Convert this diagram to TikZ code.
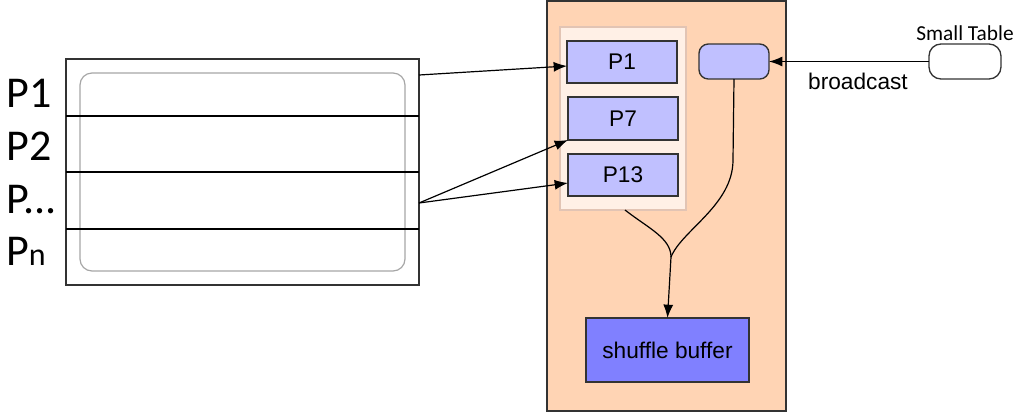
\documentclass[tikz,border=0pt]{standalone}
\usepackage{fontspec}
\setmainfont{Liberation Sans}
\newfontfamily\calib{Carlito}
\usetikzlibrary{arrows.meta}
\definecolor{peach}{HTML}{FFD4B4}
\definecolor{cream}{HTML}{FFF0E6}
\definecolor{creamedge}{HTML}{E2C4B4}
\definecolor{lblue}{HTML}{C0C0FF}
\definecolor{mblue}{HTML}{8080FF}
\definecolor{edge}{HTML}{333333}
\tikzset{
  box/.style={draw=edge, line width=1pt, inner sep=0pt, outer sep=0pt, font=\fontsize{17}{19}\selectfont},
  pbox/.style={box, fill=lblue, minimum width=82.5pt},
  arr/.style={-{Latex[length=10pt,width=7.5pt]}, line width=0.9pt, black},
  plabel/.style={anchor=base west, inner sep=0pt, font=\calib\fontsize{33}{36}\selectfont},
}
\begin{document}
\begin{tikzpicture}[x=0.75pt,y=-0.75pt]
\useasboundingbox (0,0) rectangle (1025,412);
% left table
\node[draw=edge, line width=1pt, inner sep=0pt, outer sep=0pt, minimum width=264.75pt, minimum height=169.5pt] (tbl) at (242.5,172) {};
\draw[draw=gray!70, line width=0.9pt, rounded corners=9pt] (80,73) rectangle (405,271);
\draw[line width=1pt, black] (66,116) -- (419,116);
\draw[line width=1pt, black] (66,172) -- (419,172);
\draw[line width=1pt, black] (66,229) -- (419,229);
\node[plabel] (l1) at (6,107) {P1};
\node[plabel] (l2) at (6,160) {P2};
\node[plabel] (l3) at (6,213) {P...};
\node[plabel] (l4) at (6,265) {P{\fontsize{24}{26}\selectfont n}};
% orange panel
\node[box, fill=peach, minimum width=179.25pt, minimum height=307.5pt] (panel) at (666.5,206) {};
\node[draw=creamedge, line width=1pt, fill=cream, inner sep=0pt, outer sep=0pt, minimum width=94.5pt, minimum height=137.25pt] (cont) at (623,118.5) {};
\node[pbox, minimum height=31.5pt] (p1) at (622,62) {P1};
\node[pbox, minimum height=32.25pt] (p7) at (623,118.5) {P7};
\node[pbox, minimum height=31.5pt] (p13) at (623,175) {P13};
\node[box, fill=lblue, rounded corners=7pt, minimum width=52.5pt, minimum height=26.25pt] (bc) at (734,61.5) {};
\node[box, fill=mblue, minimum width=122.25pt, minimum height=48pt] (sb) at (667.5,350) {shuffle buffer};
% small table
\node[box, fill=white, rounded corners=9pt, minimum width=54pt, minimum height=26.25pt] (st) at (965,61.5) {};
\node[inner sep=0pt, font=\calib\fontsize{16}{18}\selectfont] (stl) at (965,33) {Small Table};
\node[inner sep=0pt, font=\fontsize{17}{19}\selectfont] (bcl) at (858,81) {broadcast};
% connectors
\coordinate (s1) at (419,75);
\coordinate (s2) at (419,203);
\draw[arr] (s1) -- ([yshift=-3pt]p1.west);
\draw[arr] (s2) -- (p7.south west);
\draw[arr] (s2) -- ([yshift=-6pt]p13.west);
\draw[arr] (st.west) -- (bc.east);
\coordinate (m) at (671,257);
\coordinate (c1) at (625,210);
\draw[line width=0.9pt] (c1) .. controls (648,228) and (671,238) .. (m);
\draw[line width=0.9pt] (bc.south) -- (733,160) .. controls (733,205) and (682,230) .. (m);
\draw[arr] (m) -- (sb.north);
\end{tikzpicture}
\end{document}
